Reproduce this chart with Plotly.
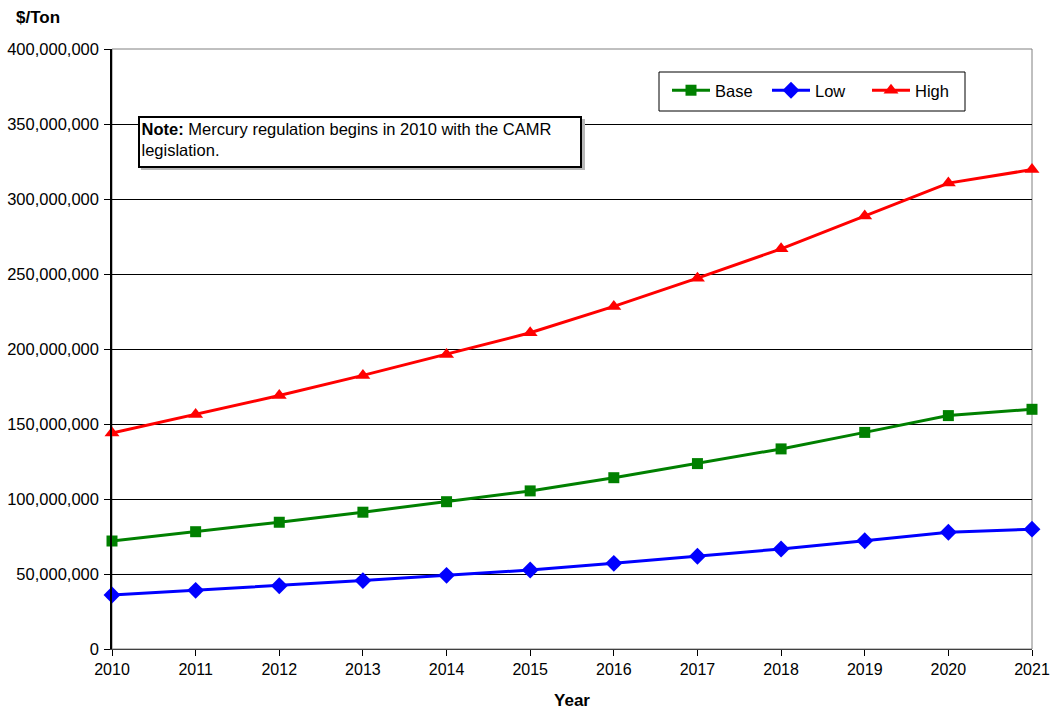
import plotly.graph_objects as go

years = [2010, 2011, 2012, 2013, 2014, 2015, 2016, 2017, 2018, 2019, 2020, 2021]
base = [72.0e6, 78.2e6, 84.5e6, 91.2e6, 98.2e6, 105.4e6, 114.2e6, 123.6e6, 133.4e6, 144.4e6, 155.6e6, 159.8e6]
low = [36.0e6, 39.1e6, 42.2e6, 45.6e6, 49.1e6, 52.7e6, 57.1e6, 61.8e6, 66.7e6, 72.2e6, 77.8e6, 79.9e6]
high = [144.0e6, 156.4e6, 169.0e6, 182.4e6, 196.4e6, 210.8e6, 228.4e6, 247.2e6, 266.8e6, 288.6e6, 310.6e6, 319.6e6]
y_ticks = [0, 50e6, 100e6, 150e6, 200e6, 250e6, 300e6, 350e6, 400e6]
y_tick_labels = ["0", "50,000,000", "100,000,000", "150,000,000", "200,000,000",
                 "250,000,000", "300,000,000", "350,000,000", "400,000,000"]

FONT = "Arial, Liberation Sans, sans-serif"
PW, PH = 920, 600  # plot area size in px


def px(xpage):
    return (xpage - 112) / PW


def py(ypage):
    return (649 - ypage) / PH


fig = go.Figure()
fig.add_trace(go.Scatter(x=years, y=base, name="Base", mode="lines+markers",
                         line=dict(color="#008000", width=3),
                         marker=dict(symbol="square", size=11, color="#008000"),
                         cliponaxis=False))
fig.add_trace(go.Scatter(x=years, y=low, name="Low", mode="lines+markers",
                         line=dict(color="#0000FF", width=3),
                         marker=dict(symbol="diamond", size=13, color="#0000FF"),
                         cliponaxis=False))
fig.add_trace(go.Scatter(x=years, y=high, name="High", mode="lines+markers",
                         line=dict(color="#FF0000", width=3),
                         marker=dict(symbol="triangle-up", size=13, color="#FF0000"),
                         cliponaxis=False))

fig.update_layout(
    width=1050, height=710,
    margin=dict(l=112, r=18, t=49, b=61, autoexpand=False),
    paper_bgcolor="white", plot_bgcolor="white",
    font=dict(family=FONT, size=16, color="black"),
    showlegend=True,
    legend=dict(orientation="h", x=px(667), y=py(73), xanchor="left", yanchor="top",
                borderwidth=0, bgcolor="rgba(0,0,0,0)",
                font=dict(family=FONT, size=16.5), itemwidth=38, entrywidth=47,
                tracegroupgap=0),
    xaxis=dict(range=[2010, 2021], tickmode="array", tickvals=years,
               ticktext=[str(y) for y in years],
               showgrid=False, zeroline=False, automargin=False,
               showline=True, linecolor="#404040", linewidth=1,
               ticks="outside", ticklen=6, tickcolor="black",
               tickfont=dict(family=FONT, size=16),
               title=dict(text="<b>Year</b>", font=dict(family=FONT, size=17), standoff=23)),
    yaxis=dict(range=[0, 400e6], tickmode="array", tickvals=y_ticks, ticktext=y_tick_labels,
               showgrid=True, gridcolor="black", gridwidth=1, zeroline=False, automargin=False,
               showline=True, linecolor="black", linewidth=1.5,
               ticks="outside", ticklen=6, tickcolor="black", ticklabelstandoff=2,
               tickfont=dict(family=FONT, size=16.5)),
    shapes=[
        dict(type="rect", xref="paper", yref="paper", x0=0, x1=1, y0=0, y1=1,
             line=dict(color="#808080", width=1), fillcolor="rgba(0,0,0,0)", layer="below"),
        # note box shadow
        dict(type="rect", xref="paper", yref="paper",
             x0=px(141), x1=px(585), y0=py(170), y1=py(119),
             line=dict(width=0), fillcolor="#b8b8b8", layer="above"),
        # legend box
        dict(type="rect", xref="paper", yref="paper",
             x0=px(659), x1=px(965), y0=py(111), y1=py(72),
             line=dict(color="black", width=1), fillcolor="white", layer="above"),
    ],
    annotations=[
        dict(xref="paper", yref="paper", x=px(14), y=py(17), xanchor="left", yanchor="middle",
             text="<b>$/Ton</b>", showarrow=False, font=dict(family=FONT, size=17)),
        dict(xref="paper", yref="paper", x=px(138), y=py(116), xanchor="left", yanchor="top",
             text="<b>Note:</b> Mercury regulation begins in 2010 with the CAMR<br>legislation.",
             showarrow=False, align="left", valign="top", width=437, height=45,
             bordercolor="black", borderwidth=2, borderpad=1.5, bgcolor="white",
             font=dict(family=FONT, size=16.5)),
    ],
)

fig.write_html("out.html", config={"displayModeBar": False},
               post_script="document.body.style.margin='0';document.body.style.overflow='hidden';")
